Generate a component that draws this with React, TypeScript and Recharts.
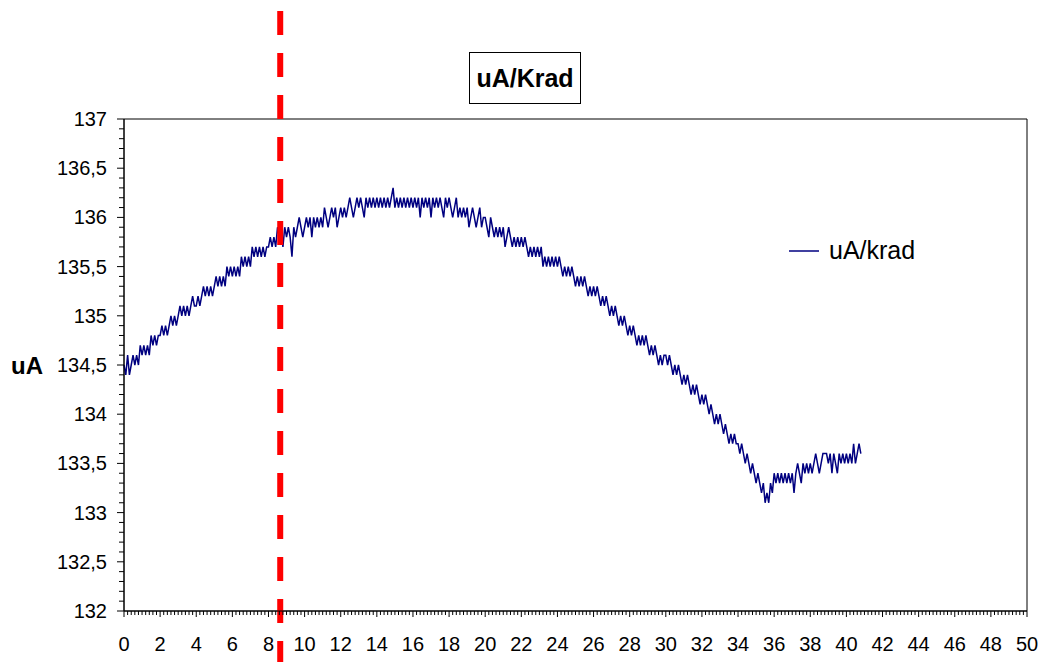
import React from 'react';
import { LineChart, Line, XAxis, YAxis, ReferenceLine, ReferenceArea, Legend } from 'recharts';

// series sampled every 0.1 on the x axis, starting at 0
const X_STEP = 0.1;
const uaValues = [
  134.5, 134.4, 134.6, 134.4, 134.5, 134.6, 134.5, 134.6, 134.5, 134.7, 134.6, 134.7, 134.6, 134.7, 134.6, 134.8, 134.7, 134.8, 134.7, 134.8,
  134.8, 134.9, 134.8, 134.9, 134.8, 134.9, 135.0, 134.9, 135.0, 134.9, 135.0, 135.1, 135.0, 135.1, 135.0, 135.1, 135.0, 135.1, 135.2, 135.1,
  135.1, 135.2, 135.1, 135.2, 135.3, 135.2, 135.3, 135.2, 135.3, 135.2, 135.3, 135.4, 135.3, 135.4, 135.3, 135.4, 135.3, 135.5, 135.4, 135.5,
  135.4, 135.5, 135.4, 135.5, 135.4, 135.6, 135.5, 135.6, 135.5, 135.6, 135.5, 135.7, 135.6, 135.7, 135.6, 135.7, 135.6, 135.7, 135.6, 135.7,
  135.7, 135.8, 135.7, 135.8, 135.7, 135.9, 135.8, 135.9, 135.7, 135.9, 135.8, 135.9, 135.8, 135.6, 135.9, 135.8, 135.9, 136.0, 135.9, 135.8,
  135.9, 136.0, 135.9, 136.0, 135.8, 136.0, 135.9, 136.0, 135.9, 136.0, 135.9, 136.1, 136.0, 135.9, 136.0, 136.1, 136.0, 136.1, 135.9, 136.0,
  136.1, 136.0, 136.1, 136.0, 136.1, 136.2, 136.1, 136.0, 136.1, 136.2, 136.1, 136.2, 136.1, 136.0, 136.2, 136.1, 136.2, 136.1, 136.2, 136.1,
  136.2, 136.1, 136.2, 136.1, 136.2, 136.1, 136.2, 136.1, 136.2, 136.3, 136.1, 136.2, 136.1, 136.2, 136.1, 136.2, 136.1, 136.2, 136.1, 136.2,
  136.1, 136.2, 136.1, 136.2, 136.0, 136.2, 136.1, 136.2, 136.1, 136.2, 136.0, 136.2, 136.1, 136.2, 136.1, 136.2, 136.1, 136.0, 136.2, 136.1,
  136.2, 136.1, 136.0, 136.1, 136.2, 136.0, 136.1, 136.0, 136.1, 136.0, 136.1, 135.9, 136.0, 136.1, 136.0, 135.9, 136.0, 136.1, 135.9, 136.0,
  136.0, 135.9, 135.8, 136.0, 135.9, 135.8, 135.9, 135.8, 135.9, 135.8, 135.9, 135.7, 135.8, 135.9, 135.8, 135.7, 135.8, 135.7, 135.8, 135.7,
  135.8, 135.7, 135.8, 135.7, 135.6, 135.7, 135.6, 135.7, 135.6, 135.7, 135.6, 135.7, 135.5, 135.6, 135.5, 135.6, 135.5, 135.6, 135.5, 135.6,
  135.5, 135.6, 135.5, 135.4, 135.5, 135.4, 135.5, 135.4, 135.5, 135.4, 135.3, 135.4, 135.3, 135.4, 135.3, 135.4, 135.3, 135.2, 135.3, 135.2,
  135.3, 135.2, 135.3, 135.2, 135.1, 135.2, 135.1, 135.2, 135.1, 135.0, 135.1, 135.0, 135.1, 135.0, 134.9, 135.0, 134.9, 135.0, 134.9, 134.8,
  134.9, 134.8, 134.9, 134.8, 134.7, 134.8, 134.7, 134.8, 134.7, 134.8, 134.7, 134.6, 134.7, 134.6, 134.7, 134.6, 134.5, 134.6, 134.5, 134.6,
  134.6, 134.5, 134.6, 134.5, 134.4, 134.5, 134.4, 134.5, 134.4, 134.3, 134.4, 134.3, 134.4, 134.3, 134.2, 134.3, 134.2, 134.3, 134.2, 134.1,
  134.2, 134.1, 134.2, 134.1, 134.0, 134.1, 134.0, 133.9, 134.0, 133.9, 134.0, 133.9, 133.8, 133.9, 133.8, 133.7, 133.8, 133.7, 133.8, 133.7,
  133.7, 133.6, 133.7, 133.6, 133.5, 133.6, 133.5, 133.4, 133.5, 133.4, 133.3, 133.4, 133.3, 133.2, 133.3, 133.1, 133.2, 133.1, 133.3, 133.2,
  133.4, 133.3, 133.4, 133.3, 133.4, 133.3, 133.4, 133.3, 133.4, 133.3, 133.4, 133.2, 133.4, 133.5, 133.4, 133.3, 133.5, 133.4, 133.5, 133.4,
  133.5, 133.4, 133.5, 133.6, 133.5, 133.4, 133.5, 133.6, 133.6, 133.6, 133.5, 133.6, 133.4, 133.6, 133.5, 133.4, 133.6, 133.5, 133.6, 133.5,
  133.6, 133.5, 133.6, 133.5, 133.7, 133.5, 133.6, 133.7, 133.6,
];

const MARKER_X = 8.65; // red dashed marker
const X_TICKS = Array.from({ length: 251 }, (_, i) => Math.round(i * 2) / 10);
const Y_TICKS = Array.from({ length: 51 }, (_, i) => Math.round(1320 + i) / 10);

const FONT = '"Liberation Sans", Arial, sans-serif';
const LINE_COLOR = '#000080';

const data = uaValues.map((v, i) => ({ x: Math.round(i * X_STEP * 10) / 10, ua: v }));

const XTick = (props: any) => {
  const { x, y, payload } = props;
  const v = payload.value;
  const isLabel = Math.abs(v - Math.round(v)) < 1e-6 && Math.round(v) % 2 === 0;
  return (
    <g>
      <line x1={x} x2={x} y1={y} y2={y + (isLabel ? 6 : 4)} stroke="#000" />
      {isLabel && (
        <text x={x} y={y + 40} textAnchor="middle" fontSize={20} fontFamily={FONT} fill="#000">
          {Math.round(v)}
        </text>
      )}
    </g>
  );
};

const YTick = (props: any) => {
  const { x, y, payload } = props;
  const v = payload.value;
  const isLabel = Math.abs(v * 2 - Math.round(v * 2)) < 1e-6;
  return (
    <g>
      <line x1={x - (isLabel ? 7 : 5)} x2={x} y1={y} y2={y} stroke="#000" />
      {isLabel && (
        <text x={x - 17} y={y + 7} textAnchor="end" fontSize={20} fontFamily={FONT} fill="#000">
          {String(v).replace('.', ',')}
        </text>
      )}
    </g>
  );
};

const LegendBox = () => (
  <div style={{ display: 'flex', alignItems: 'center', fontFamily: FONT, fontSize: 25, color: '#000' }}>
    <svg width={32} height={4} style={{ marginRight: 8 }}>
      <line x1={0} x2={30} y1={2} y2={2} stroke={LINE_COLOR} strokeWidth={1.5} />
    </svg>
    <span>uA/krad</span>
  </div>
);

const App: React.FC = () => {
  return (
    <div style={{ position: 'absolute', left: 0, top: 0, width: 1041, height: 662, background: '#fff' }}>
      <LineChart width={1041} height={662} data={data} margin={{ top: 119, right: 14, bottom: 0, left: 0 }}>
        <XAxis
          dataKey="x"
          type="number"
          domain={[0, 50]}
          ticks={X_TICKS}
          interval={0}
          tick={<XTick />}
          tickLine={false}
          tickSize={0}
          tickMargin={0}
          height={51}
          axisLine={{ stroke: '#000' }}
        />
        <YAxis
          type="number"
          domain={[132, 137]}
          ticks={Y_TICKS}
          interval={0}
          tick={<YTick />}
          tickLine={false}
          tickSize={0}
          tickMargin={0}
          width={124}
          axisLine={{ stroke: '#000' }}
          label={{
            value: 'uA',
            position: 'insideLeft',
            offset: 11,
            style: { fontFamily: FONT, fontSize: 24, fontWeight: 'bold', fill: '#000' },
          }}
        />
        <ReferenceArea x1={0} x2={50} y1={132} y2={137} fill="none" stroke="#000" strokeWidth={1} />
        <Line
          dataKey="ua"
          type="linear"
          stroke={LINE_COLOR}
          strokeWidth={1.5}
          dot={false}
          isAnimationActive={false}
        />
        <ReferenceLine
          segment={[{ x: MARKER_X, y: 131.45 }, { x: MARKER_X, y: 138.2 }]}
          ifOverflow="visible"
          stroke="#FF0000"
          strokeWidth={6}
          strokeDasharray="24 18"
        />
        <Legend
          layout="vertical"
          align="center"
          verticalAlign="middle"
          content={<LegendBox />}
          wrapperStyle={{ left: 789, top: 236, width: 200, height: 30 }}
        />
      </LineChart>
      <div
        style={{
          position: 'absolute',
          left: 469,
          top: 52,
          width: 110,
          height: 50,
          border: '1px solid #000',
          display: 'flex',
          alignItems: 'center',
          justifyContent: 'center',
          fontFamily: FONT,
          fontWeight: 'bold',
          fontSize: 25,
          color: '#000',
        }}
      >
        uA/Krad
      </div>
    </div>
  );
};

export default App;
